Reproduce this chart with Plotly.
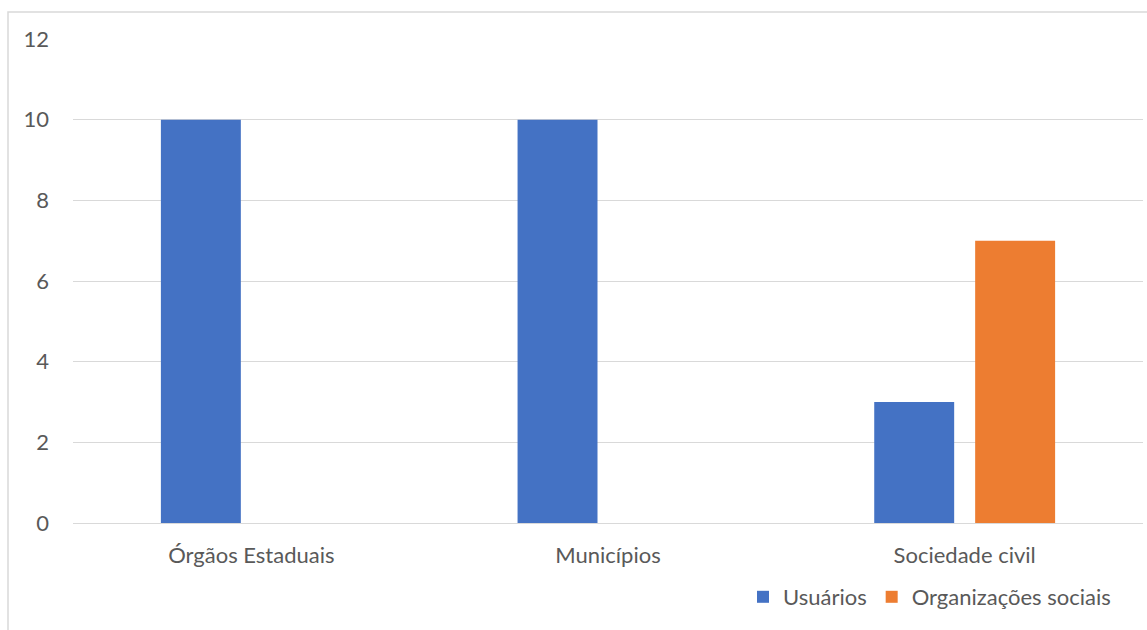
import plotly.graph_objects as go

categories = ["Órgãos Estaduais", "Municípios", "Sociedade civil"]
usuarios = [10, 10, 3]
organizacoes = [0, 0, 7]
y_ticks = [0, 2, 4, 6, 8, 10, 12]

W, H = 1147, 630
L, R, T, B = 73, 4, 39, 107
pw, ph = W - L - R, H - T - B

font = dict(family="Lato, Open Sans, sans-serif", size=22, color="#595959")

fig = go.Figure()
fig.add_trace(go.Bar(x=categories, y=usuarios, name="Usuários", marker=dict(color="#4472C4", line_width=0)))
fig.add_trace(go.Bar(x=categories, y=organizacoes, name="Organizações sociais", marker=dict(color="#ED7D31", line_width=0)))

fig.update_layout(
    width=W, height=H,
    margin=dict(l=L, r=R, t=T, b=B, pad=0),
    paper_bgcolor="white", plot_bgcolor="white",
    barmode="group", bargap=0.434, bargroupgap=0.208,
    font=font,
    showlegend=True,
    legend=dict(orientation="h", x=(1116 - L) / pw, xanchor="right", y=(523 - 597) / ph, yanchor="middle",
                font=dict(size=22, color="#595959"), itemwidth=30, traceorder="normal",
                bgcolor="rgba(0,0,0,0)"),
    xaxis=dict(showgrid=False, showline=False, ticks="", tickfont=dict(size=22), ticklabelstandoff=17, fixedrange=True),
    yaxis=dict(range=[0, 12], tickvals=y_ticks, showgrid=True, gridcolor="#d9d9d9", gridwidth=1.3,
               zeroline=True, zerolinecolor="#d9d9d9", zerolinewidth=1.3, showline=False, ticks="",
               tickfont=dict(size=22), ticklabelstandoff=23),
    shapes=[
        dict(type="rect", xref="paper", yref="paper",
             x0=(8 - L) / pw, x1=(1160 - L) / pw, y0=(T + ph - 650) / ph, y1=1 + (T - 12) / ph,
             line=dict(color="#d9d9d9", width=1.5), fillcolor="rgba(0,0,0,0)", layer="below"),
    ],
)

fig.write_html("out.html")
